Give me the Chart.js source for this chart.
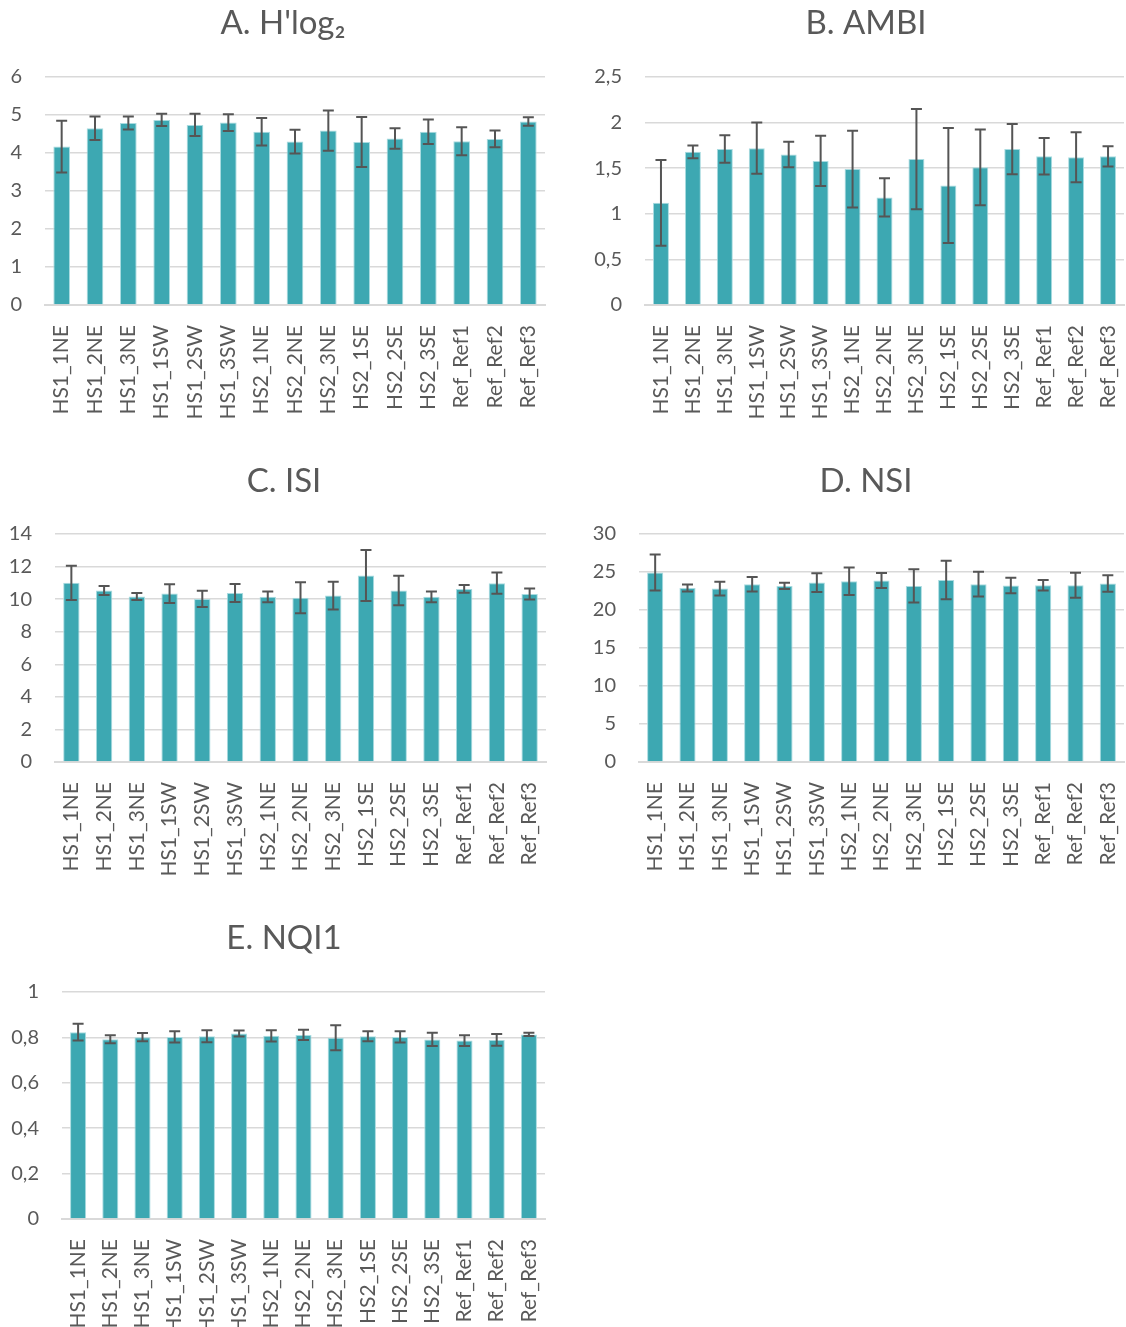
<!DOCTYPE html>
<html><head><meta charset="utf-8">
<script src="https://cdn.jsdelivr.net/npm/chart.js@4.4.1/dist/chart.umd.min.js"></script>
<style>
html,body{margin:0;padding:0;background:#fff;width:1126px;height:1327px;overflow:hidden;position:relative;}
canvas{position:absolute;}
</style></head><body>
<canvas id="cA"></canvas>
<canvas id="cB"></canvas>
<canvas id="cC"></canvas>
<canvas id="cD"></canvas>
<canvas id="cE"></canvas>
<script>
// ---------- DATA ----------
const categories = ['HS1_1NE','HS1_2NE','HS1_3NE','HS1_1SW','HS1_2SW','HS1_3SW','HS2_1NE','HS2_2NE','HS2_3NE','HS2_1SE','HS2_2SE','HS2_3SE','Ref_Ref1','Ref_Ref2','Ref_Ref3'];

const hlog2Mean = [4.17,4.65,4.79,4.87,4.74,4.80,4.56,4.30,4.59,4.29,4.38,4.56,4.31,4.37,4.83];
const hlog2Sd   = [0.68,0.31,0.17,0.16,0.29,0.22,0.36,0.31,0.53,0.66,0.27,0.32,0.37,0.22,0.11];
const hlog2Ticks = [0,1,2,3,4,5,6];

const ambiMean = [1.12,1.68,1.71,1.72,1.65,1.58,1.49,1.18,1.60,1.31,1.51,1.71,1.63,1.62,1.63];
const ambiSd   = [0.47,0.07,0.15,0.28,0.14,0.275,0.42,0.21,0.55,0.63,0.415,0.275,0.20,0.275,0.11];
const ambiTicks = [0,0.5,1,1.5,2,2.5];

const isiMean = [11.0,10.53,10.16,10.34,10.01,10.38,10.14,10.09,10.22,11.45,10.53,10.14,10.63,10.98,10.32];
const isiSd   = [1.05,0.28,0.22,0.58,0.50,0.55,0.33,0.95,0.85,1.56,0.90,0.33,0.24,0.65,0.34];
const isiTicks = [0,2,4,6,8,10,12,14];

const nsiMean = [24.93,22.91,22.82,23.39,23.17,23.61,23.79,23.88,23.17,23.96,23.39,23.22,23.26,23.26,23.48];
const nsiSd   = [2.38,0.46,0.90,0.95,0.40,1.23,1.80,1.00,2.18,2.53,1.63,1.03,0.70,1.65,1.08];
const nsiTicks = [0,5,10,15,20,25,30];

const nqiMean = [0.823,0.792,0.801,0.802,0.805,0.817,0.807,0.811,0.798,0.805,0.802,0.791,0.786,0.789,0.813];
const nqiSd   = [0.037,0.018,0.018,0.025,0.026,0.013,0.025,0.023,0.055,0.022,0.025,0.029,0.024,0.026,0.007];
const nqiTicks = [0,0.2,0.4,0.6,0.8,1];

const titles = ["A. H'log\u2082", 'B. AMBI', 'C. ISI', 'D. NSI', 'E. NQI1'];

// ---------- STYLE ----------
const FONT = "Lato, 'Noto Sans', sans-serif";
const TITLE_SIZE = 33;
const TICK_SIZE = 20;
const XTICK_SIZE = 21;
const TEXT_COLOR = '#595959';
const BAR_COLOR = '#3DA8B2';
const GRID_COLOR = '#d9d9d9';

Chart.defaults.font.family = FONT;
Chart.defaults.color = TEXT_COLOR;

const errorBarPlugin = {
  id: 'errorBars',
  afterDatasetsDraw(chart, args, opts) {
    const ctx = chart.ctx;
    const meta = chart.getDatasetMeta(0);
    const ys = chart.scales.y;
    const ds = chart.data.datasets[0];
    ctx.save();
    ctx.strokeStyle = opts.color;
    ctx.lineWidth = opts.width;
    meta.data.forEach((bar, i) => {
      const v = ds.data[i], e = ds.errors[i];
      const x = bar.x;
      const y1 = ys.getPixelForValue(v + e), y2 = ys.getPixelForValue(v - e);
      ctx.beginPath();
      ctx.moveTo(x, y1); ctx.lineTo(x, y2);
      ctx.moveTo(x - opts.cap, y1); ctx.lineTo(x + opts.cap, y1);
      ctx.moveTo(x - opts.cap, y2); ctx.lineTo(x + opts.cap, y2);
      ctx.stroke();
    });
    ctx.restore();
  }
};

function fmt(v) {
  const r = Math.round(v * 100) / 100;
  return String(r).replace('.', ',');
}

function makeChart(id, box, title, mean, sd, tickValues) {
  const cv = document.getElementById(id);
  cv.width = box.cw; cv.height = box.ch;
  cv.style.left = box.cl + 'px'; cv.style.top = box.ct + 'px';
  cv.style.width = box.cw + 'px'; cv.style.height = box.ch + 'px';
  const R = box.cl + box.cw - box.pr;
  const L = 2 * (box.tc - box.cl) - box.cw + R;
  const W = box.pl - box.cl - L;
  const Tt = box.ty - box.ct - 0.6 * TITLE_SIZE;
  const Tb = box.ptop - box.ct - Tt - 1.2 * TITLE_SIZE;
  const H = box.ct + box.ch - box.pbot;
  const ymax = tickValues[tickValues.length - 1];
  return new Chart(cv, {
    type: 'bar',
    data: {
      labels: categories,
      datasets: [{
        data: mean,
        errors: sd,
        backgroundColor: BAR_COLOR,
        borderColor: '#a9dbe0',
        borderWidth: 1,
        barPercentage: 0.5,
        categoryPercentage: 1.0
      }]
    },
    options: {
      responsive: false,
      devicePixelRatio: 1,
      animation: false,
      layout: { padding: { left: L, right: R, top: 0, bottom: 0 } },
      plugins: {
        legend: { display: false },
        tooltip: { enabled: false },
        title: {
          display: true, text: title, color: TEXT_COLOR,
          font: { family: FONT, size: TITLE_SIZE, weight: 'normal', lineHeight: 1.2 },
          padding: { top: Tt, bottom: Tb }
        },
        errorBars: { color: '#555555', width: 2, cap: 5.5 }
      },
      scales: {
        x: {
          grid: { display: false },
          border: { display: true, color: GRID_COLOR, width: 2 },
          ticks: {
            color: TEXT_COLOR, font: { size: XTICK_SIZE }, padding: 12,
            minRotation: 90, maxRotation: 90, autoSkip: false
          },
          afterFit: s => { s.height = H; s.paddingLeft = 0; s.paddingRight = 0; }
        },
        y: {
          min: 0, max: ymax,
          grid: { color: GRID_COLOR, lineWidth: 1.5, drawTicks: false },
          border: { display: false },
          ticks: {
            color: TEXT_COLOR, font: { size: TICK_SIZE }, padding: 23,
            callback: v => fmt(v)
          },
          afterBuildTicks: s => { s.ticks = tickValues.map(v => ({ value: v })); },
          afterFit: s => {
            s.width = W; s.paddingTop = 0; s.paddingBottom = 0;
            s._computeLabelArea = () => null;
          }
        }
      }
    },
    plugins: [errorBarPlugin]
  });
}

makeChart('cA', {cl:0,   cw:566, ct:0,   ch:440, pl:45,  pr:545,  ptop:77,  pbot:305,  tc:283, ty:23},  titles[0], hlog2Mean, hlog2Sd, hlog2Ticks);
makeChart('cB', {cl:583, cw:543, ct:0,   ch:440, pl:645, pr:1124, ptop:77,  pbot:305,  tc:866, ty:23},  titles[1], ambiMean, ambiSd, ambiTicks);
makeChart('cC', {cl:0,   cw:568, ct:455, ch:430, pl:55,  pr:546,  ptop:534, pbot:762,  tc:284, ty:481}, titles[2], isiMean, isiSd, isiTicks);
makeChart('cD', {cl:583, cw:543, ct:455, ch:430, pl:639, pr:1124, ptop:534, pbot:762,  tc:866, ty:481}, titles[3], nsiMean, nsiSd, nsiTicks);
makeChart('cE', {cl:0,   cw:566, ct:912, ch:415, pl:62,  pr:545,  ptop:992, pbot:1219, tc:284, ty:938}, titles[4], nqiMean, nqiSd, nqiTicks);
</script>
</body></html>
